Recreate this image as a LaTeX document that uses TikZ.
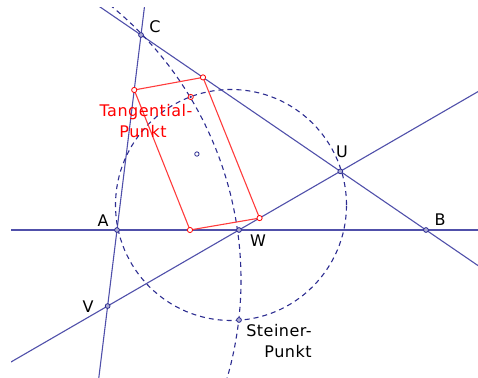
\documentclass[tikz,border=0pt]{standalone}
\usepackage{fontspec}
\setmainfont[LetterSpace=3]{DejaVu Sans}
\usetikzlibrary{calc}

\begin{document}
\begin{tikzpicture}[x=0.5pt, y=0.5pt, font=\fontsize{8}{9.6}\selectfont]

  \definecolor{lineBlue}{RGB}{80,80,170}
  \definecolor{dashBlue}{RGB}{45,45,145}
  \definecolor{quadRed}{RGB}{255,60,60}

  \tikzset{
    gline/.style={lineBlue, line width=0.55pt},
    dline/.style={dashBlue, line width=0.55pt, dash pattern=on 2.5pt off 2pt},
    quad/.style={quadRed, line width=0.55pt},
    pt/.style={circle, draw=dashBlue, fill=dashBlue!40, line width=0.4pt, inner sep=0pt, minimum size=2.4pt},
    rpt/.style={circle, draw=red, fill=white, line width=0.4pt, inner sep=0pt, minimum size=2.6pt},
    lbl/.style={inner sep=0pt, anchor=base, text=black},
  }

  \useasboundingbox (0,0) rectangle (478,378);

  % triangle ABC and the transversal V W U
  \coordinate (C) at (141,343);
  \coordinate (A) at (117,148);
  \coordinate (B) at (426,148);
  \coordinate (W) at (239,148);
  \coordinate (V) at ($(C)!1.39!(A)$);
  \coordinate (U) at (intersection of V--W and C--B);
  \coordinate (S) at (239,58);     % Steiner point
  \coordinate (T) at (190.7,281);  % tangential point

  % red quadrilateral, one corner on each line
  \coordinate (P1) at ($(C)!0.282!(A)$);
  \coordinate (P2) at ($(C)!0.2175!(B)$);
  \coordinate (P3) at ($(V)!0.653!(U)$);
  \coordinate (P4) at ($(A)!0.2362!(B)$);
  \coordinate (M) at ($(P1)!0.5!(P3)$);

  \begin{scope}
    \clip (11,0) rectangle (478,370);
    % the four lines
    \draw[gline] ($(C)!-0.15!(A)$) -- ($(C)!1.77!(A)$);
    \draw[gline] ($(C)!-0.15!(B)$) -- ($(C)!1.2!(B)$);
    \draw[gline] ($(A)!-0.36!(B)$) -- ($(A)!1.18!(B)$);
    \draw[gline] ($(V)!-0.43!(U)$) -- ($(V)!1.61!(U)$);
    % the two circles through T and S
    \draw[dline] (231,173) circle[radius=115.5];
    \draw[dline] (-113,98) ++(51:354) arc[start angle=51, end angle=-17, radius=354];
  \end{scope}

  \draw[quad] (P1) -- (P2) -- (P3) -- (P4) -- cycle;

  % points
  \foreach \p in {C,A,B,W,U,V,S}
    \node[pt] (m\p) at (\p) {};
  \foreach \p in {P1,P2,P3,P4,T}
    \node[rpt] (m\p) at (\p) {};
  \fill[dashBlue] (T) circle[radius=1.3];
  \node[circle, draw=dashBlue, fill=white, line width=0.4pt, inner sep=0pt, minimum size=2.2pt] (mM) at (M) {};

  % labels
  \node[lbl] (lC) at (155,345) {C};
  \node[lbl] (lA) at (103,151) {A};
  \node[lbl] (lB) at (440,152) {B};
  \node[lbl] (lU) at (342,220) {U};
  \node[lbl] (lW) at (258,131) {W};
  \node[lbl] (lV) at (88,65) {V};
  \node[lbl] (lSt) at (279,41) {Steiner-};
  \node[lbl] (lStP) at (288,20) {Punkt};
  \node[lbl, text=red] (lTan) at (146,261) {Tangential-};
  \node[lbl, text=red] (lTanP) at (143,240) {Punkt};

\end{tikzpicture}
\end{document}
